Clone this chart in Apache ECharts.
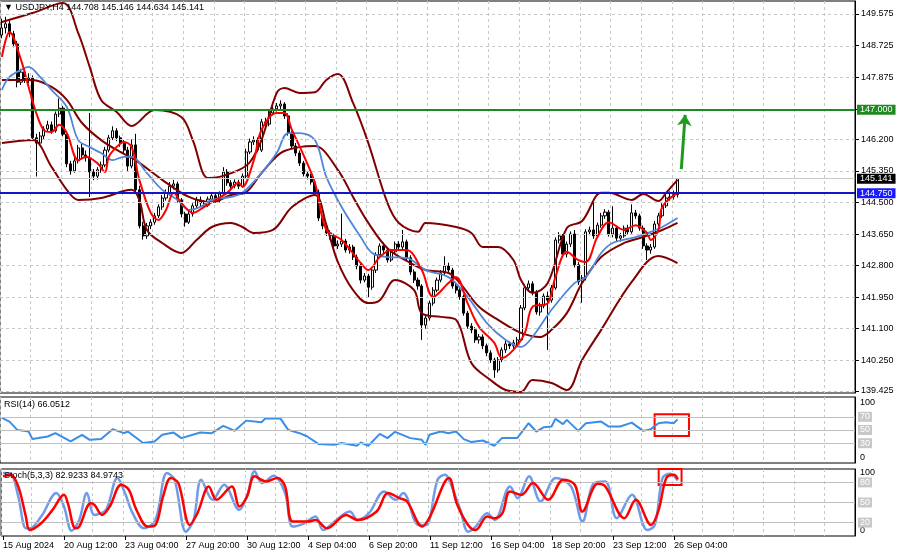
<!DOCTYPE html>
<html><head><meta charset="utf-8">
<script src="https://cdn.jsdelivr.net/npm/echarts@6/dist/echarts.min.js"></script>
<style>html,body{margin:0;padding:0;background:#fff}#c{width:900px;height:560px}</style>
</head><body><div id="c"></div>
<script>
const symbolTitle = 'USDJPY,H4';
const lastOHLC = [144.708, 145.146, 144.634, 145.141];
const rsiTitle = 'RSI(14) 66.0512';
const stochTitle = 'Stoch(5,3,3) 82.9233 84.9743';
const totalSlots = 224;
const tickLabels = ['15 Aug 2024','20 Aug 12:00','23 Aug 04:00','27 Aug 20:00','30 Aug 12:00','4 Sep 04:00','6 Sep 20:00','11 Sep 12:00','16 Sep 04:00','18 Sep 20:00','23 Sep 12:00','26 Sep 04:00'];
const priceTicks = [139.425,140.25,141.1,141.95,142.8,143.65,144.5,145.35,146.2,147.0,147.875,148.725,149.575];
const resistance = 147.000;
const support = 144.750;
const bid = 145.141;
const arrowFrom = ['178', 145.40];
const arrowTo = ['179', 146.86];
const rsiLevels = [70,50,30];
const stochLevels = [80,50,20];

// [open, close, low, high]
const candles = [
[149.01,149.20,148.92,149.45],[149.20,149.31,149.05,149.50],[149.31,149.04,148.95,149.40],[149.04,148.77,148.68,149.12],
[148.77,147.74,147.60,148.85],[147.74,148.01,147.66,148.10],[148.01,147.80,147.72,148.12],[147.80,147.85,147.70,147.98],
[147.85,146.24,146.15,147.92],[146.24,146.10,145.20,146.35],[146.10,146.29,146.02,146.40],[146.29,146.48,146.20,146.55],
[146.48,146.59,146.40,146.70],[146.59,146.43,146.35,146.68],[146.43,146.88,146.38,146.95],[146.88,147.04,146.80,147.30],
[147.04,146.34,146.28,147.10],[146.34,145.54,145.45,146.40],[145.54,145.35,145.25,145.62],[145.35,145.62,145.30,145.70],
[145.62,145.97,145.55,146.05],[145.97,145.78,145.70,146.08],[145.78,145.70,145.60,145.90],[145.70,145.32,144.65,146.91],
[145.32,145.21,145.10,145.40],[145.21,145.38,145.12,145.45],[145.38,145.51,145.30,145.60],[145.51,145.91,145.45,146.00],
[145.91,146.24,145.85,146.32],[146.24,146.43,146.18,146.55],[146.43,146.24,146.15,146.50],[146.24,146.10,146.00,146.30],
[146.10,145.91,145.82,146.18],[145.91,145.48,145.35,146.00],[145.48,146.05,145.42,146.20],[146.05,144.84,144.75,146.35],
[144.84,143.87,143.80,144.95],[143.87,143.60,143.50,143.98],[143.60,143.87,143.52,143.95],[143.87,143.97,143.78,144.05],
[143.97,144.14,143.90,144.22],[144.14,144.38,144.08,144.45],[144.38,144.62,144.30,144.70],[144.62,144.76,144.55,144.85],
[144.76,144.94,144.68,145.05],[144.94,145.00,144.85,145.11],[145.00,144.57,144.50,145.06],[144.57,144.19,144.10,144.62],
[144.19,143.97,143.85,144.25],[143.97,144.19,143.92,144.28],[144.19,144.41,144.12,144.48],[144.41,144.57,144.35,144.65],
[144.57,144.49,144.40,144.66],[144.49,144.43,144.35,144.56],[144.43,144.59,144.38,144.66],[144.59,144.68,144.52,144.76],
[144.68,144.57,144.50,144.75],[144.57,144.73,144.50,144.80],[144.73,145.32,144.68,145.45],[145.32,145.03,144.95,145.40],
[145.03,144.94,144.86,145.10],[144.94,145.05,144.88,145.12],[145.05,144.94,144.86,145.11],[144.94,145.21,144.90,145.28],
[145.21,145.86,145.15,145.95],[145.86,146.13,145.80,146.22],[146.13,146.18,146.05,146.28],[146.18,145.91,145.85,146.25],
[145.91,146.67,145.86,146.75],[146.67,146.61,146.52,146.78],[146.61,146.91,146.55,146.98],[146.91,147.02,146.85,147.10],
[147.02,147.10,146.95,147.18],[147.10,147.15,147.00,147.25],[147.15,146.83,146.75,147.20],[146.83,146.37,146.30,146.90],
[146.37,146.02,145.95,146.42],[146.02,145.83,145.75,146.10],[145.83,145.56,145.48,145.90],[145.56,145.27,145.20,145.62],
[145.27,145.21,145.12,145.35],[145.21,145.05,144.98,145.28],[145.05,144.78,144.70,145.10],[144.78,144.08,144.00,144.85],
[144.08,143.87,143.78,144.15],[143.87,143.68,143.60,143.95],[143.68,143.60,143.50,143.75],[143.60,143.33,143.25,143.66],
[143.33,143.38,143.25,143.48],[143.38,143.46,143.30,144.20],[143.46,143.22,143.15,143.52],[143.22,143.30,143.12,143.38],
[143.30,143.03,142.95,143.36],[143.03,142.79,142.70,143.10],[142.79,142.41,142.32,142.86],[142.41,142.52,142.35,142.60],
[142.52,142.22,141.95,142.58],[142.22,142.68,142.15,142.75],[142.68,143.09,142.60,143.16],[143.09,143.33,143.02,143.40],
[143.33,143.22,143.14,143.42],[143.22,142.95,142.88,143.28],[142.95,143.17,142.90,143.25],[143.17,143.38,143.10,143.45],
[143.38,143.30,143.22,143.46],[143.30,143.44,143.24,143.76],[143.44,143.01,142.95,143.50],[143.01,142.63,142.55,143.08],
[142.63,142.41,142.33,142.70],[142.41,142.25,142.15,142.48],[142.25,141.20,140.80,142.30],[141.20,141.39,141.10,141.48],
[141.39,141.79,141.32,141.86],[141.79,142.14,141.72,142.22],[142.14,142.41,142.08,142.48],[142.41,142.60,142.35,142.68],
[142.60,142.79,142.52,143.05],[142.79,142.68,142.60,142.88],[142.68,142.25,142.18,142.74],[142.25,142.14,142.05,142.32],
[142.14,141.96,141.88,142.22],[141.96,141.52,141.45,142.02],[141.52,141.17,141.10,141.58],[141.17,141.07,140.98,141.25],
[141.07,140.80,140.72,141.14],[140.80,140.88,140.70,140.96],[140.88,140.64,140.55,140.95],[140.64,140.45,140.36,140.70],
[140.45,140.26,140.18,140.52],[140.26,139.99,139.78,140.32],[139.99,140.26,139.92,140.34],[140.26,140.53,140.20,140.60],
[140.53,140.69,140.45,140.78],[140.69,140.64,140.55,140.76],[140.64,140.72,140.56,140.80],[140.72,140.80,140.62,140.88],
[140.80,141.66,140.74,141.74],[141.66,142.20,141.60,142.30],[142.20,142.31,142.10,142.40],[142.31,142.09,142.00,142.38],
[142.09,141.55,141.48,142.14],[141.55,141.71,141.45,141.80],[141.71,141.98,141.65,142.05],[141.98,141.87,140.53,142.10],
[141.87,142.20,141.80,142.28],[142.20,143.49,142.15,143.56],[143.49,143.60,143.40,143.70],[143.60,143.11,143.05,143.65],
[143.11,143.38,143.02,143.45],[143.38,143.65,143.30,143.72],[143.65,142.82,142.75,143.76],[142.82,142.36,142.28,142.90],
[142.36,142.47,141.80,142.55],[142.47,143.71,142.40,143.78],[143.71,143.76,143.62,143.85],[143.76,143.60,143.52,144.50],
[143.60,143.89,143.55,143.96],[143.89,144.14,143.82,144.22],[144.14,144.24,144.06,144.32],[144.24,143.65,143.58,144.30],
[143.65,143.81,143.56,144.40],[143.81,143.54,143.46,143.88],[143.54,143.60,143.45,143.68],[143.60,143.81,143.55,143.88],
[143.81,143.71,143.64,143.90],[143.71,144.22,143.66,144.45],[144.22,144.14,144.06,144.30],[144.14,143.81,143.74,144.20],
[143.81,143.33,143.25,143.88],[143.33,143.22,142.95,143.40],[143.22,143.30,143.12,143.38],[143.30,143.92,143.25,144.00],
[143.92,144.14,143.86,144.22],[144.14,144.41,144.08,144.48],[144.41,144.62,144.35,144.70],[144.62,144.65,144.55,144.80],
[144.65,144.708,144.58,144.82],[144.708,145.141,144.634,145.146]
];

// [bar index, value] samples
const bbUpper = [[0,149.36],[8,149.60],[16,149.87],[20,149.06],[23,148.15],[26,147.26],[30,146.94],[34,146.56],[40,146.99],[47,146.80],[50,146.18],[54,145.16],[57,145.19],[62,145.37],[65,145.59],[68,146.18],[72,147.45],[74,147.58],[78,147.45],[82,147.47],[85,147.80],[88,147.96],[92,147.18],[96,146.10],[101,144.49],[104,143.95],[109,143.71],[111,143.95],[119,143.84],[123,143.68],[126,143.30],[130,143.30],[134,142.95],[136,142.41],[139,142.06],[143,142.33],[148,143.81],[152,144.00],[157,144.76],[159,144.76],[165,144.57],[168,144.73],[172,144.54],[174,144.76],[177,145.11]];
const bbMiddle = [[0,147.80],[8,147.80],[13,147.61],[17,147.26],[21,146.64],[26,146.18],[31,145.86],[35,145.64],[42,145.11],[49,144.65],[55,144.51],[60,144.70],[64,144.78],[68,145.29],[73,145.83],[78,145.99],[82,146.02],[88,145.38],[92,144.65],[96,143.95],[101,143.27],[107,142.87],[111,142.68],[117,142.60],[120,142.33],[125,141.69],[130,141.34],[136,140.99],[141,140.88],[144,141.07],[148,141.52],[152,142.33],[157,143.03],[163,143.41],[168,143.57],[173,143.76],[177,143.95]];
const bbLower = [[0,146.10],[8,146.18],[13,145.46],[17,144.84],[20,144.57],[26,144.62],[34,144.84],[36,144.57],[38,143.76],[42,143.41],[47,143.14],[51,143.49],[55,143.84],[60,143.95],[63,143.84],[66,143.68],[71,143.76],[76,144.38],[82,144.70],[85,143.89],[88,142.90],[92,142.14],[96,141.79],[99,141.87],[103,142.41],[108,142.14],[110,141.52],[115,141.42],[119,141.34],[123,140.18],[128,139.72],[132,139.45],[136,139.40],[139,139.72],[144,139.64],[148,139.45],[152,140.26],[157,141.07],[165,142.36],[172,143.06],[177,142.87]];
const maFast = [[0,148.42],[2,149.09],[5,148.34],[7,147.61],[9,146.91],[11,146.45],[13,146.40],[15,146.59],[17,146.37],[20,145.64],[22,145.73],[25,145.56],[27,145.32],[28,145.73],[30,145.99],[32,146.13],[34,145.99],[36,145.11],[39,144.22],[41,144.03],[43,144.30],[45,144.76],[47,144.49],[50,144.22],[53,144.38],[55,144.51],[59,144.76],[62,145.03],[63,144.92],[66,145.64],[68,146.45],[72,146.91],[74,146.91],[76,146.45],[79,145.78],[82,145.03],[85,143.76],[89,143.49],[94,142.87],[96,142.68],[99,143.03],[102,143.22],[106,143.22],[110,142.68],[113,141.96],[117,142.33],[119,142.49],[122,141.79],[125,141.15],[129,140.72],[131,140.31],[134,140.53],[137,140.99],[139,141.69],[143,141.79],[145,142.49],[148,143.17],[151,142.95],[153,142.90],[156,143.57],[159,143.97],[163,143.76],[166,143.89],[169,143.68],[170,143.49],[172,143.76],[173,144.38],[177,144.76]];
const maSlow = [[0,147.53],[2,147.88],[6,148.12],[7,148.15],[10,147.88],[13,147.53],[17,147.07],[20,146.18],[23,145.99],[26,145.83],[29,145.64],[32,145.73],[34,145.73],[38,145.29],[42,144.84],[46,144.57],[49,144.30],[52,144.38],[55,144.57],[60,144.65],[63,144.76],[68,145.29],[72,145.83],[75,146.37],[78,146.37],[82,146.18],[85,145.19],[89,144.38],[94,143.57],[97,143.14],[101,143.03],[106,143.01],[111,142.68],[117,142.49],[122,141.96],[127,141.26],[132,140.80],[136,140.61],[139,140.88],[144,141.61],[150,142.33],[153,142.49],[157,143.14],[160,143.41],[166,143.57],[170,143.71],[173,143.84],[177,144.08]];
const rsi = [[0,68.3],[2,62.7],[4,50.2],[7,47.7],[8,36.2],[12,40.1],[14,45.2],[18,32.6],[21,42.7],[23,35.1],[26,36.2],[29,51.3],[32,45.2],[33,47.7],[37,30.2],[40,32.6],[42,42.7],[45,46.1],[47,37.7],[52,46.1],[55,45.2],[58,56.2],[61,48.7],[64,64.2],[68,61.8],[69,67.3],[73,67.3],[75,50.2],[78,45.2],[80,40.1],[83,28.7],[87,27.6],[89,30.2],[93,26.1],[94,31.1],[96,26.1],[99,44.2],[101,37.7],[103,47.2],[107,37.7],[110,35.1],[111,27.6],[112,42.7],[115,47.7],[117,45.2],[119,47.7],[121,36.2],[123,31.7],[126,34.1],[129,26.1],[131,37.7],[135,37.7],[138,60.3],[140,47.7],[142,54.3],[144,55.2],[145,66.8],[147,58.8],[148,65.3],[151,48.7],[153,60.3],[157,62.7],[159,55.2],[162,55.2],[165,61.2],[168,48.7],[170,51.3],[172,60.3],[174,61.8],[176,60.3],[177,66.05]];
const stochK = [[0,94],[2,93],[4,59],[6,11.5],[7,11.5],[10,29],[14,64],[16,44],[18,8],[20,24],[22,64],[24,31.5],[27,39],[30,86.5],[32,64],[34,34],[37,11.5],[40,24],[43,94],[45,84],[48,6.5],[50,24],[52,84],[55,54],[58,76.5],[62,39],[64,59],[66,96.5],[68,79],[71,90],[74,64],[76,14],[79,19],[82,29],[84,9],[87,21.5],[91,36.5],[93,24],[96,34],[100,66.5],[103,54],[105,64],[109,16.5],[111,16.5],[114,84],[116,91.5],[117,84],[120,39],[122,6.5],[124,14],[127,34],[129,24],[133,74],[135,56.5],[138,89],[141,51.5],[145,86.5],[149,74],[152,21.5],[155,79],[158,81.5],[161,26.5],[165,61.5],[169,9],[171,16.5],[173,86.5],[175,93],[177,82.92]];
const stochD = [[0,89],[2,91.5],[4,74],[6,29],[7,9],[10,19],[13,39],[16,61.5],[17,49],[19,11.5],[20,14],[23,49],[24,46.5],[26,31.5],[28,44],[31,76.5],[33,69],[35,39],[38,14],[40,16.5],[42,59],[44,86.5],[46,79],[49,16.5],[51,34],[54,74],[56,54],[60,74],[62,44],[64,59],[66,89],[69,81.5],[72,86.5],[74,74],[76,21.5],[80,21.5],[82,24],[85,11.5],[90,31.5],[93,24],[98,36.5],[101,64],[104,56.5],[106,51.5],[110,14],[112,29],[117,86.5],[119,49],[122,16.5],[124,9],[127,29],[129,26.5],[131,34],[133,66.5],[136,61.5],[139,79],[143,54],[147,84],[150,76.5],[152,36.5],[156,78],[158,74],[163,26.5],[166,54],[170,16.5],[172,39],[174,86.5],[176,91.5],[177,84.97]];

const cats = Array.from({length: totalSlots}, (_, i) => String(i));
const labelEvery = 16;
const showTick = (idx) => idx % labelEvery === 0 && idx / labelEvery < tickLabels.length;
const gridLine = {color: '#c8c8c8', type: [3, 3], width: 1};
const font = 'Liberation Sans, Arial, sans-serif';

function catAxis(gi, withLabels) {
  return {
    gridIndex: gi, type: 'category', data: cats, boundaryGap: true,
    axisLine: {show: false},
    axisTick: withLabels ? {show: true, alignWithLabel: true, interval: showTick, length: 4, lineStyle: {color: '#000'}} : {show: false},
    axisLabel: withLabels ? {show: true, interval: showTick, formatter: (v, idx) => tickLabels[Math.round(idx / labelEvery)] || '', align: 'left', margin: 5, fontSize: 9, color: '#000'} : {show: false},
    splitLine: {show: true, interval: 7, lineStyle: gridLine}
  };
}
function pctAxis(gi, topPad, botPad) {
  return {
    gridIndex: gi, type: 'value', position: 'right', min: 0, max: 100,
    splitLine: {show: false}, axisLine: {show: true, lineStyle: {color: '#000'}}, axisTick: {show: false},
    axisLabel: {customValues: [0, 100], margin: 5, fontSize: 9, color: '#000',
      formatter: v => v >= 100 ? '{t|100}' : '{b|0}',
      rich: {t: {padding: [topPad, 0, 0, 0], fontSize: 9, color: '#000'}, b: {padding: [0, 0, botPad, 0], fontSize: 9, color: '#000'}}}
  };
}
function levelMarks(levels) {
  return {
    symbol: ['none', 'none'], silent: true, animation: false,
    lineStyle: {color: '#c0c0c0', type: 'solid', width: 1},
    label: {show: true, position: 'end', distance: 3, formatter: p => String(p.value), backgroundColor: '#c8c8c8', color: '#fff', padding: [1, 2, 0, 2], fontSize: 9},
    data: levels.map(v => ({yAxis: v}))
  };
}
function lineSeries(name, data, xi, color, width, smooth, z) {
  return {name, type: 'line', xAxisIndex: xi, yAxisIndex: xi, data, showSymbol: false, smooth,
    lineStyle: {color, width}, itemStyle: {color}, emphasis: {disabled: true}, z: z || 4};
}
function priceBox(value, lineColor, boxColor, width) {
  return {yAxis: value, lineStyle: {color: lineColor, width, type: 'solid'},
    label: {show: true, position: 'end', distance: 2, formatter: value.toFixed(3), backgroundColor: boxColor, color: '#fff', padding: [1, 3, 0, 3], fontSize: 9}};
}

const chart = echarts.init(document.getElementById('c'), null, {renderer: 'canvas'});
chart.setOption({
  animation: false,
  backgroundColor: '#fff',
  textStyle: {fontFamily: font},
  title: [
    {text: '\u25BC ' + symbolTitle + ' ' + lastOHLC.map(v => v.toFixed(3)).join(' '), left: 4, top: 3, padding: 0, textStyle: {fontSize: 9, fontWeight: 'normal', color: '#000'}},
    {text: rsiTitle, left: 4, top: 400, padding: 0, textStyle: {fontSize: 9, fontWeight: 'normal', color: '#000'}},
    {text: stochTitle, left: 4, top: 471, padding: 0, textStyle: {fontSize: 9, fontWeight: 'normal', color: '#000'}}
  ],
  grid: [
    {left: 0, width: 855, top: 1, height: 392, show: true, borderColor: '#000', borderWidth: 1, backgroundColor: '#fff'},
    {left: 0, width: 855, top: 397, height: 66, show: true, borderColor: '#000', borderWidth: 1, backgroundColor: '#fff'},
    {left: 0, width: 855, top: 469, height: 67, show: true, borderColor: '#000', borderWidth: 1, backgroundColor: '#fff'}
  ],
  xAxis: [catAxis(0, false), catAxis(1, false), catAxis(2, true)],
  yAxis: [
    {gridIndex: 0, type: 'value', position: 'right', min: 139.37, max: 149.925,
      splitLine: {show: false}, axisLine: {show: true, lineStyle: {color: '#000'}},
      axisTick: {show: true, customValues: priceTicks, length: 4, lineStyle: {color: '#000'}},
      axisLabel: {customValues: priceTicks, formatter: v => v.toFixed(3), fontSize: 9, color: '#000', margin: 6}},
    pctAxis(1, 12, 10),
    pctAxis(2, 8, 10)
  ],
  series: [
    {name: 'hgrid', type: 'line', xAxisIndex: 0, yAxisIndex: 0, data: [], z: 1,
      markLine: {symbol: ['none', 'none'], silent: true, animation: false, lineStyle: gridLine, label: {show: false}, data: priceTicks.map(v => ({yAxis: v}))}},
    {name: 'price', type: 'candlestick', xAxisIndex: 0, yAxisIndex: 0, data: candles, barWidth: 2.6, z: 3,
      itemStyle: {color: '#ffffff', color0: '#000000', borderColor: '#000000', borderColor0: '#000000', borderWidth: 1},
      emphasis: {disabled: true},
      markLine: {symbol: ['none', 'none'], silent: true, animation: false,
        data: [priceBox(bid, '#c8c8c8', '#000000', 1), priceBox(resistance, '#1f8a1f', '#1f8a1f', 2), priceBox(support, '#1414c8', '#1a1aff', 2)]}},
    lineSeries('bbUpper', bbUpper, 0, '#800000', 2, 0.35),
    lineSeries('bbMiddle', bbMiddle, 0, '#800000', 2, 0.35),
    lineSeries('bbLower', bbLower, 0, '#800000', 2, 0.35),
    lineSeries('maSlow', maSlow, 0, '#4f86d9', 1.8, 0.35),
    Object.assign(lineSeries('maFast', maFast, 0, '#ff0000', 2, 0.35), {
      markLine: {symbol: ['none', 'arrow'], symbolSize: 11, silent: true, animation: false,
        lineStyle: {color: '#1f9a1f', width: 3, type: 'solid'}, label: {show: false},
        data: [[{coord: arrowFrom}, {coord: arrowTo}]]}}),
    Object.assign(lineSeries('rsi', rsi, 1, '#3a8ee6', 2, false), {
      markLine: levelMarks(rsiLevels),
      markArea: {silent: true, itemStyle: {color: 'rgba(0,0,0,0)', borderColor: '#ff0000', borderWidth: 2},
        data: [[{xAxis: '171', yAxis: 74}, {xAxis: '180', yAxis: 41}]]}}),
    Object.assign(lineSeries('stochK', stochK, 2, '#6f9be8', 2.5, 0.35), {markLine: levelMarks(stochLevels)}),
    Object.assign(lineSeries('stochD', stochD, 2, '#ff0000', 2.5, 0.35, 5), {
      markArea: {silent: true, itemStyle: {color: 'rgba(0,0,0,0)', borderColor: '#ff0000', borderWidth: 2},
        data: [[{xAxis: '172', yAxis: 100}, {xAxis: '178', yAxis: 76}]]}})
  ]
});
</script></body></html>
